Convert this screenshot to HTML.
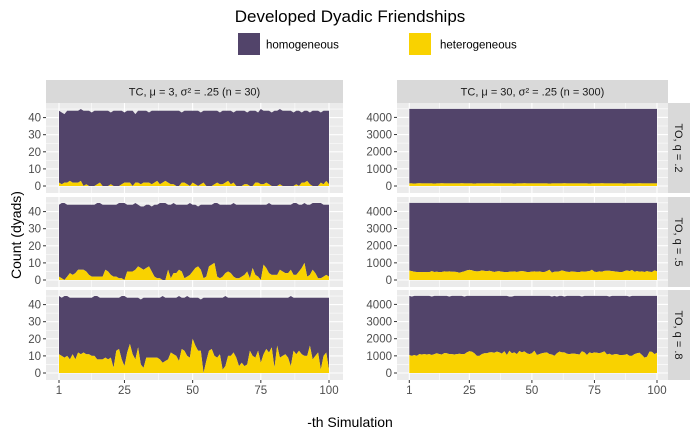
<!DOCTYPE html>
<html><head><meta charset="utf-8"><style>
body{margin:0;background:#fff;}
svg{display:block;font-family:"Liberation Sans",Arial,sans-serif;}
</style></head><body>
<svg id="chart" width="700" height="432" viewBox="0 0 700 432">
<text x="350" y="22" text-anchor="middle" font-size="17" fill="#000">Developed Dyadic Friendships</text>
<g>
<rect x="238" y="33" width="22" height="22" fill="#52446A"/>
<text x="266" y="48.5" font-size="11.5" fill="#000">homogeneous</text>
<rect x="409" y="33" width="22" height="22" fill="#F9D200"/>
<text x="440" y="48.5" font-size="11.5" fill="#000">heterogeneous</text>
</g>
<text transform="translate(21,235) rotate(-90)" text-anchor="middle" font-size="14" fill="#000">Count (dyads)</text>
<text x="350" y="427" text-anchor="middle" font-size="14" fill="#000">-th Simulation</text>
<g id="panels"></g>
</svg>
<script>
// data (simulation 1..100)
const sims = Array.from({length:100},(_, i)=>i+1);
const xTicks = [1,25,50,75,100];
const yTicksLeft = [0,10,20,30,40];
const yTicksRight = [0,1000,2000,3000,4000];
const colLabels = ["TC, \u03bc = 3, \u03c3\u00b2 = .25 (n = 30)","TC, \u03bc = 30, \u03c3\u00b2 = .25 (n = 300)"];
const rowLabels = ["TO, q = .2","TO, q = .5","TO, q = .8"];

const totalL1 = [44,43,42,44,44,44,44,44,45,44,44,44,43,44,44,44,44,44,44,43,44,44,44,44,43,44,44,44,42,44,44,44,44,43,44,44,44,44,44,44,44,44,44,44,44,43,44,44,44,44,44,44,43,44,44,44,44,44,44,43,44,44,44,44,43,44,44,44,44,43,44,44,44,43,45,44,44,44,43,44,44,45,44,44,44,44,43,44,44,43,44,44,43,44,44,44,43,44,44,44];
const heteroL1 = [2,1,2,2,3,2,2,2,3,0,1,0,0,0,1,2,0,0,0,1,0,0,0,1,2,2,2,0,2,2,1,2,2,2,1,2,3,1,2,3,2,1,1,0,0,2,2,1,0,2,1,0,1,2,0,0,0,1,2,1,1,2,3,1,2,0,0,0,1,1,0,0,2,2,1,1,2,1,0,0,0,1,0,0,0,0,0,1,0,2,2,3,1,0,0,0,2,1,3,1];
const totalL2 = [44,45,45,44,44,44,44,44,44,44,44,44,44,44,45,45,44,44,44,44,44,44,45,45,45,44,44,44,45,44,43,43,44,44,43,44,44,45,45,45,44,44,45,44,44,44,44,44,45,44,44,43,44,44,44,44,44,45,45,44,44,44,44,44,45,44,44,44,44,44,44,44,44,44,44,44,44,45,44,44,44,44,44,44,44,44,45,45,44,44,45,44,44,45,45,45,45,44,44,44];
const heteroL2 = [2,1,0,2,4,3,4,6,6,6,5,3,2,2,2,2,2,6,5,3,2,2,1,1,0,5,5,5,6,8,7,6,7,8,5,2,1,1,0,0,6,1,4,4,6,5,1,2,3,5,7,8,6,1,2,8,9,10,2,1,2,4,5,4,2,1,1,2,3,5,1,7,3,2,0,9,7,4,3,3,3,6,5,4,4,6,3,3,5,7,10,2,3,6,4,1,1,2,3,2];
const totalL3 = [45,44,45,45,44,44,44,44,44,44,44,44,44,45,45,44,44,44,44,44,44,44,44,45,45,44,44,44,44,44,43,44,44,44,44,44,44,44,45,44,44,44,44,44,45,44,44,45,44,44,44,44,43,44,44,44,44,44,44,44,44,45,44,44,44,44,44,44,44,44,44,44,44,44,44,44,44,44,44,44,44,44,44,44,44,45,44,44,44,44,44,44,44,44,44,44,44,44,44,44];
const heteroL3 = [11,10,9,10,8,11,8,12,11,12,11,11,10,10,8,8,8,9,8,9,3,13,14,8,4,12,17,11,8,15,5,3,9,9,9,9,9,8,6,7,8,12,11,10,7,14,13,10,9,20,16,13,13,0,7,13,14,10,9,11,2,4,10,10,12,9,4,6,4,5,13,10,9,13,6,11,14,12,15,3,16,9,10,11,9,4,13,11,13,11,10,10,16,8,10,12,2,10,12,2];
const totalR1 = Array.from({length:100},()=>4500);
const heteroR1 = [150,150,140,150,160,150,150,150,150,150,140,150,150,160,150,150,150,150,150,150,150,160,150,150,150,150,140,150,150,150,150,150,150,160,150,150,150,150,150,150,150,150,140,150,150,150,160,150,150,150,150,150,150,150,150,150,140,150,150,150,150,150,160,150,150,150,150,150,150,150,150,150,140,150,150,150,150,160,150,150,150,150,150,150,150,150,140,150,150,150,150,150,160,150,150,150,150,150,150,150];
const totalR2 = Array.from({length:100},()=>4500);
const heteroR2 = [550,520,480,470,460,470,460,470,460,520,470,480,460,470,500,490,500,480,480,470,420,470,500,560,590,570,520,500,510,560,530,510,540,500,470,500,510,480,470,460,480,490,500,470,500,520,500,470,470,490,500,480,500,470,470,520,600,430,480,490,500,560,520,480,470,500,480,470,460,500,480,500,520,600,480,470,500,480,530,540,540,520,500,480,470,460,520,560,520,580,480,520,490,500,470,520,480,470,560,500];
const totalR3 = [4500,4450,4500,4500,4500,4500,4500,4500,4500,4450,4500,4500,4500,4500,4500,4500,4450,4500,4500,4500,4500,4500,4450,4500,4500,4500,4500,4500,4500,4500,4500,4500,4500,4500,4500,4500,4500,4500,4500,4500,4450,4450,4500,4500,4500,4500,4500,4500,4500,4500,4500,4500,4500,4500,4500,4500,4500,4450,4500,4450,4500,4500,4450,4500,4500,4500,4500,4500,4500,4450,4500,4500,4500,4500,4500,4500,4500,4500,4500,4500,4450,4500,4500,4500,4500,4500,4500,4500,4450,4500,4500,4500,4500,4500,4500,4500,4500,4500,4500,4500];
const heteroR3 = [1050,1000,1050,1000,1100,1080,1100,1080,1100,1050,1100,1150,1100,1080,1160,1150,1100,1100,1080,1100,1120,1100,1100,1200,1270,1250,1150,1000,1000,1100,1150,1150,1200,1210,1180,1250,1200,1130,1270,1050,1300,1150,1200,1100,1280,1200,1260,1150,1100,1150,1300,1050,1100,1150,1180,1200,1100,1080,1000,1150,1250,1200,1200,1120,1100,1130,1130,1100,1080,1270,1200,1050,1200,1150,1200,1180,1150,1200,1260,1080,1120,1050,1090,1100,1050,1050,1060,1100,1000,1000,1100,1150,1180,1050,900,950,1250,1230,1100,1180];

const panelData = [
 [[totalL1,heteroL1],[totalR1,heteroR1]],
 [[totalL2,heteroL2],[totalR2,heteroR2]],
 [[totalL3,heteroL3],[totalR3,heteroR3]]
];

const NS="http://www.w3.org/2000/svg";
const root=document.getElementById('panels');
function mk(tag,attrs,parent){const e=document.createElementNS(NS,tag);for(const k in attrs)e.setAttribute(k,attrs[k]);(parent||root).appendChild(e);return e;}

const cols=[{x0:46,x1:343,d1:59,d100:329,max:1,ticks:yTicksLeft,label:v=>String(v),scale:1.71},
            {x0:397,x1:668,d1:409.3,d100:657,ticks:yTicksRight,label:v=>String(v),scale:0.01715}];
const rowTops=[103,197,290];
const PH=90;

// column strips
cols.forEach((c,ci)=>{
  const g=mk('g',{});
  
  
  mk('rect',{x:c.x0,y:80,width:c.x1-c.x0,height:23,fill:'#D9D9D9'},g);
  const t=mk('text',{x:(c.x0+c.x1)/2,y:95.5,'text-anchor':'middle','font-size':'11','fill':'#1a1a1a'},g);
  t.textContent=colLabels[ci];
});
// row strips
rowTops.forEach((top,ri)=>{
  const g=mk('g',{});
  
  
  mk('rect',{x:668,y:top,width:22,height:PH,fill:'#D9D9D9'},g);
  const t=mk('text',{transform:`translate(675,${top+PH/2}) rotate(90)`,'text-anchor':'middle','font-size':'11','fill':'#1a1a1a'},g);
  t.textContent=rowLabels[ri];
});

rowTops.forEach((top,ri)=>{
  cols.forEach((c,ci)=>{
    const g=mk('g',{});
    
    
    const zero=top+83;
    const X=v=>c.d1+(v-1)*(c.d100-c.d1)/99;
    const Y=v=>zero-v*c.scale;
    mk('rect',{x:c.x0,y:top,width:c.x1-c.x0,height:PH,fill:'#EBEBEB'},g);
    // minor grid
    const step=c.ticks[1]-c.ticks[0];
    for(let k=0;k<c.ticks.length;k++){
      const yy=Y(c.ticks[k]+step/2);
      if(yy>top) mk('line',{x1:c.x0,x2:c.x1,y1:yy,y2:yy,stroke:'#fff','stroke-width':0.55},g);
    }
    for(let k=0;k<xTicks.length-1;k++){
      const xx=X((xTicks[k]+xTicks[k+1])/2);
      mk('line',{x1:xx,x2:xx,y1:top,y2:top+PH,stroke:'#fff','stroke-width':0.55},g);
    }
    c.ticks.forEach(v=>mk('line',{x1:c.x0,x2:c.x1,y1:Y(v),y2:Y(v),stroke:'#fff','stroke-width':1.1},g));
    xTicks.forEach(v=>mk('line',{x1:X(v),x2:X(v),y1:top,y2:top+PH,stroke:'#fff','stroke-width':1.1},g));
    const [tot,het]=panelData[ri][ci];
    let p1=sims.map((s,i)=>X(s)+','+Y(tot[i])).join(' ');
    let p1b=sims.slice().reverse().map((s)=>X(s)+','+Y(het[s-1])).join(' ');
    const a1=mk('polygon',{points:p1+' '+p1b,fill:'#52446A'},g);
    
    
    let p2=sims.map((s,i)=>X(s)+','+Y(het[i])).join(' ');
    const a2=mk('polygon',{points:p2+' '+X(100)+','+Y(0)+' '+X(1)+','+Y(0),fill:'#F9D200'},g);
    
    
    // y axis
    c.ticks.forEach(v=>{
      mk('line',{x1:c.x0-3,x2:c.x0,y1:Y(v),y2:Y(v),stroke:'#333','stroke-width':1},g);
      const t=mk('text',{x:c.x0-5,y:Y(v)+4,'text-anchor':'end','font-size':'11.5',fill:'#4D4D4D'},g);
      
      
      t.textContent=c.label(v);
    });
    if(ri===2){
      xTicks.forEach(v=>{
        mk('line',{x1:X(v),x2:X(v),y1:top+PH,y2:top+PH+3,stroke:'#333','stroke-width':1},g);
        const t=mk('text',{x:X(v),y:top+PH+14,'text-anchor':'middle','font-size':'11.5',fill:'#4D4D4D'},g);
        
        
        t.textContent=String(v);
      });
    }
  });
});
</script>
</body></html>
